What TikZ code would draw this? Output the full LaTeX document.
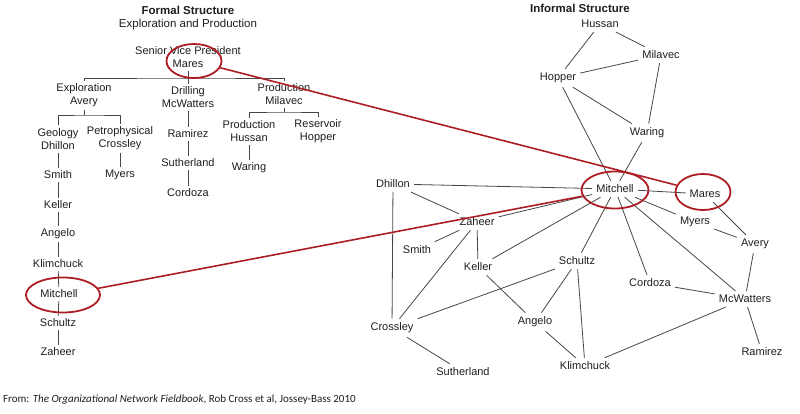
\documentclass[tikz,border=0pt]{standalone}
\usepackage{fontspec}
\setmainfont{Liberation Sans}
\newfontfamily\notefont{Carlito}
\usepackage{tikz}
\usetikzlibrary{shapes.geometric}
\usepackage{xcolor}
\definecolor{txtgray}{RGB}{30,30,30}
\definecolor{linkgray}{RGB}{70,70,70}
\definecolor{ringred}{RGB}{172,30,36}
\tikzset{
	person/.style={%
		font=\fontsize{11}{13}\selectfont,
		text=txtgray,
		inner sep=4pt
	},
	formal/.style={person, align=center, inner sep=3pt},
	heading/.style={font=\fontsize{11.5}{13}\selectfont#1, text=txtgray},
	heading/.default=,
	link/.style={draw=linkgray, line width=0.8pt},
	ring/.style={%
		draw=ringred, ellipse, line width=1.8pt,
		minimum width=#1, inner sep=0pt
	},
	ring/.default=55pt,
	cross/.style={draw=ringred, line width=1.6pt}
}

\begin{document}
\begin{tikzpicture}[x=1pt,y=-1pt]
		
		% fix the frame of the figure
		\useasboundingbox (0,0) rectangle (800,413);
		
		% Formal structure
		\node[heading=\bfseries] (ftitle) at (188,10) {Formal Structure};
		\node[heading] (fsub) at (188,25) {Exploration and Production};
		
		\node[formal] (fmares) at (188,57.5) {Senior Vice President\\Mares};
		\node[formal] (fexpl) at (84,95.5) {Exploration\\Avery};
		\node[formal] (fdrill) at (188,97.5) {Drilling\\McWatters};
		\node[formal] (fprod) at (284,94.5) {Production\\Milavec};
		
		\node[formal] (fgeo) at (58,139) {Geology\\Dhillon};
		\node[formal] (fpetro) at (120,138.5) {Petrophysical\\Crossley};
		\node[formal] (fsmith) at (58,175) {Smith};
		\node[formal] (fmyers) at (120,175) {Myers};
		\node[formal] (fkeller) at (58,205) {Keller};
		\node[formal] (fangelo) at (58,234) {Angelo};
		\node[formal] (fklim) at (58,264) {Klimchuck};
		\node[formal] (fmitch) at (59,294) {Mitchell};
		\node[formal] (fschultz) at (58,323) {Schultz};
		\node[formal] (fzaheer) at (58,352) {Zaheer};
		
		\node[formal] (framirez) at (188,134) {Ramirez};
		\node[formal] (fsuth) at (188,163) {Sutherland};
		\node[formal] (fcord) at (188,193) {Cordoza};
		
		\node[formal] (fphus) at (249,131.5) {Production\\Hussan};
		\node[formal] (fres) at (318,131.5) {Reservoir\\Hopper};
		\node[formal] (fwaring) at (249,168) {Waring};
		
		% bars of the tree
		\coordinate (bar1) at (188,78);
		\coordinate (bar2) at (89,115);
		\coordinate (bar3) at (284,112);
		\draw[link] (fexpl.north) |- (bar1) -| (fprod.north);
		\draw[link] (fmares.south) -- (fdrill.north);
		\draw[link] (fgeo.north) |- (bar2) -| (fpetro.north);
		\draw[link] (fexpl.south) -- (fexpl.south |- bar2);
		\draw[link] (fphus.north) |- (bar3) -| (fres.north);
		\draw[link] (fprod.south) -- (fprod.south |- bar3);
		
		\foreach \a/\b in {fgeo/fsmith, fsmith/fkeller, fkeller/fangelo,
				fangelo/fklim, fklim/fmitch, fmitch/fschultz, fschultz/fzaheer,
				fpetro/fmyers, fdrill/framirez, framirez/fsuth, fsuth/fcord,
				fphus/fwaring}
			\draw[link] (\a) -- (\b);
		
		% Informal structure
		\node[heading=\bfseries] (ititle) at (580,8) {Informal Structure};
		
		\node[person] (ihussan) at (600,24) {Hussan};
		\node[person] (imilavec) at (661,55) {Milavec};
		\node[person] (ihopper) at (558,78) {Hopper};
		\node[person] (iwaring) at (647,133) {Waring};
		\node[person] (idhillon) at (393,184) {Dhillon};
		\node[person] (imitch) at (615,189) {Mitchell};
		\node[person] (imares) at (705,194) {Mares};
		\node[person] (izaheer) at (477,222) {Zaheer};
		\node[person] (ismith) at (417,250) {Smith};
		\node[person] (ikeller) at (478,267) {Keller};
		\node[person] (imyers) at (695,222) {Myers};
		\node[person] (iavery) at (755,244) {Avery};
		\node[person] (ischultz) at (577,261) {Schultz};
		\node[person] (icord) at (650,283) {Cordoza};
		\node[person] (imcw) at (745,299) {McWatters};
		\node[person] (icross) at (392,328) {Crossley};
		\node[person] (iangelo) at (535,322) {Angelo};
		\node[person] (iramirez) at (762,352) {Ramirez};
		\node[person] (isuth) at (463,372) {Sutherland};
		\node[person] (iklim) at (585,366) {Klimchuck};
		
		\foreach \a/\b in {ihussan/ihopper, ihussan/imilavec, ihopper/imilavec,
				imilavec/iwaring, ihopper/iwaring, ihopper/imitch, iwaring/imitch,
				idhillon/imitch, idhillon/izaheer, idhillon/icross,
				imitch/imares, imitch/izaheer, imitch/ikeller, imitch/ischultz,
				imitch/icord, imitch/imcw, imitch/imyers,
				imares/iavery, imyers/iavery, iavery/imcw,
				izaheer/ismith, izaheer/ikeller, izaheer/icross, ikeller/iangelo,
				ischultz/icross, ischultz/iangelo, ischultz/iklim, iangelo/iklim,
				icord/imcw, imcw/iramirez, imcw/iklim, icross/isuth}
			\draw[link] (\a) -- (\b);
		
		% red rings and the lines between them
		\node[ring=55pt, minimum height=34pt] (fmaresring) at (194,61) {};
		\node[ring=74pt, minimum height=35pt] (fmitchring) at (63,295) {};
		\node[ring=67pt, minimum height=37pt] (imitchring) at (615,190) {};
		\node[ring=55pt, minimum height=36pt] (imaresring) at (703,192) {};
		
		\draw[cross] (fmaresring) -- (imaresring);
		\draw[cross] (fmitchring) -- (imitchring);
		
		% source
		\node[anchor=west, inner sep=0pt, font=\notefont\fontsize{11}{13}\selectfont, text=txtgray]
			(source) at (3,400) {From: \textit{The Organizational Network Fieldbook}, Rob Cross et al, Jossey-Bass 2010};
		
\end{tikzpicture}
\end{document}
